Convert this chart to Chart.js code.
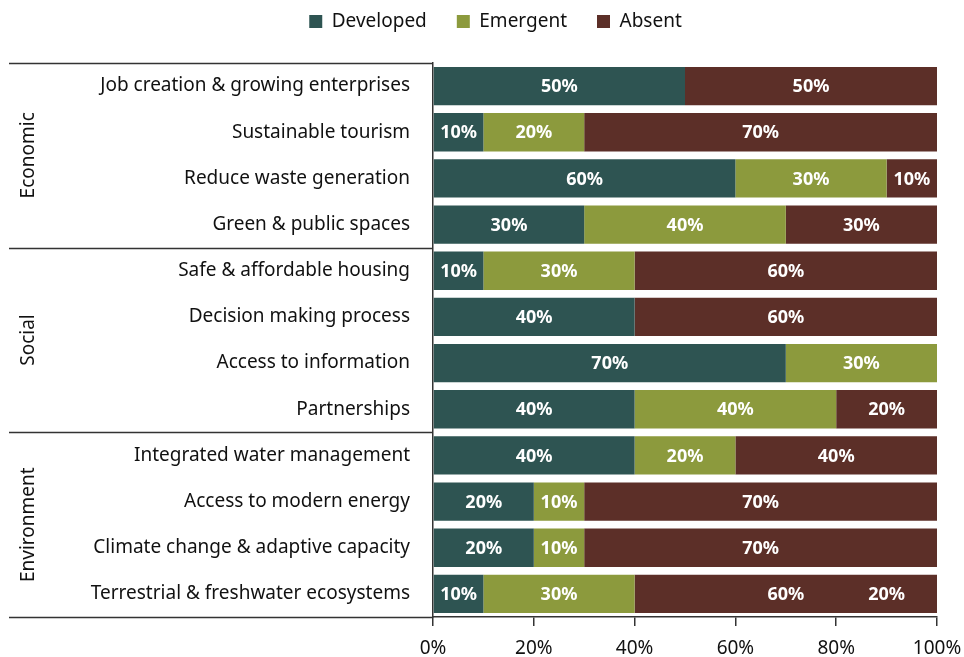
<!DOCTYPE html>
<html>
<head>
<meta charset="utf-8">
<script src="https://cdn.jsdelivr.net/npm/chart.js@4/dist/chart.umd.min.js"></script>
<style>
html,body{margin:0;padding:0;background:#fff;}
#wrap{width:964px;height:657px;position:relative;}
</style>
</head>
<body>
<div id="wrap"><canvas id="c" width="964" height="657"></canvas></div>
<script>
const categories = [
  "Job creation & growing enterprises",
  "Sustainable tourism",
  "Reduce waste generation",
  "Green & public spaces",
  "Safe & affordable housing",
  "Decision making process",
  "Access to information",
  "Partnerships",
  "Integrated water management",
  "Access to modern energy",
  "Climate change & adaptive capacity",
  "Terrestrial & freshwater ecosystems"
];
const groups = ["Economic", "Social", "Environment"];
const groupSizes = [4, 4, 4];
const developed = [50, 10, 60, 30, 10, 40, 70, 40, 40, 20, 20, 10];
const emergent  = [0, 20, 30, 40, 30, 0, 30, 40, 20, 10, 10, 30];
const absent    = [50, 70, 10, 30, 60, 60, 0, 20, 40, 70, 70, 60];
// an extra "20%" label printed inside the last bar's Absent segment in the original
const extraAbsentLabel = [null, null, null, null, null, null, null, null, null, null, null, 20];
const xTicks = [0, 20, 40, 60, 80, 100];

const FONT = "'Noto Sans', 'Open Sans', sans-serif";
const colors = { developed: "#2e5452", emergent: "#8c9a3d", absent: "#5c2f28" };

const LEGEND_H = 63, LEGEND_SHIFT_Y = -18, LEGEND_SHIFT_X = 27;
const legendTweak = {
  id: "legendTweak",
  beforeLayout(chart) {
    const lg = chart.legend;
    if (lg && !lg._patched) {
      const origFit = lg.fit, origDraw = lg.draw;
      lg.fit = function () { origFit.call(this); this.height = LEGEND_H; };
      lg.draw = function () {
        const c = this.ctx; c.save(); c.translate(LEGEND_SHIFT_X, LEGEND_SHIFT_Y);
        origDraw.apply(this, arguments); c.restore();
      };
      lg._patched = true;
    }
  }
};

const labelPlugin = {
  id: "segLabels",
  afterDatasetsDraw(chart) {
    const ctx = chart.ctx;
    const x = chart.scales.x;
    ctx.save();
    ctx.fillStyle = "#fff";
    ctx.font = "bold 18px " + FONT;
    ctx.textAlign = "center";
    ctx.textBaseline = "middle";
    chart.data.datasets.forEach((ds, di) => {
      const meta = chart.getDatasetMeta(di);
      meta.data.forEach((bar, i) => {
        const v = ds.data[i];
        if (!v) return;
        const cx = (bar.x + bar.base) / 2;
        ctx.fillText(v + "%", cx, bar.y + 1);
      });
    });
    const metaA = chart.getDatasetMeta(2);
    extraAbsentLabel.forEach((v, i) => {
      if (v == null) return;
      const cx = x.getPixelForValue(100 - v / 2);
      ctx.fillText(v + "%", cx, metaA.data[i].y + 1);
    });
    ctx.restore();
  }
};

const groupPlugin = {
  id: "groups",
  afterDraw(chart) {
    const ctx = chart.ctx;
    const y = chart.scales.y;
    const area = chart.chartArea;
    const left = 9;
    ctx.save();
    ctx.strokeStyle = "#333";
    ctx.lineWidth = 1.5;
    let start = 0;
    const half = (y.getPixelForValue(1) - y.getPixelForValue(0)) / 2;
    const bounds = [];
    bounds.push(y.getPixelForValue(0) - half);
    groupSizes.forEach(n => { start += n; bounds.push(y.getPixelForValue(start - 1) + half); });
    bounds.forEach((b, k) => {
      ctx.beginPath();
      ctx.moveTo(left, Math.round(b) + 0.5);
      ctx.lineTo(area.left, Math.round(b) + 0.5);
      ctx.stroke();
    });
    ctx.fillStyle = "#111";
    ctx.font = "19px " + FONT;
    ctx.textAlign = "center";
    ctx.textBaseline = "middle";
    groups.forEach((g, k) => {
      const cy = (bounds[k] + bounds[k + 1]) / 2;
      ctx.save();
      ctx.translate(29, cy);
      ctx.rotate(-Math.PI / 2);
      ctx.fillText(g, 0, 0);
      ctx.restore();
    });
    ctx.restore();
  }
};

new Chart(document.getElementById("c"), {
  type: "bar",
  data: {
    labels: categories,
    datasets: [
      { label: "Developed", data: developed, backgroundColor: colors.developed },
      { label: "Emergent", data: emergent, backgroundColor: colors.emergent },
      { label: "Absent", data: absent, backgroundColor: colors.absent }
    ]
  },
  options: {
    indexAxis: "y",
    responsive: false,
    animation: false,
    devicePixelRatio: 1,
    layout: { padding: { top: 0, right: 27, left: 0, bottom: 0 } },
    datasets: { bar: { barPercentage: 0.83, categoryPercentage: 1.0, borderWidth: 0 } },
    plugins: {
      legend: {
        position: "top",
        labels: {
          font: { family: FONT, size: 19 },
          color: "#111",
          boxWidth: 13,
          boxHeight: 13,
          padding: 30
        }
      },
      tooltip: { enabled: false }
    },
    scales: {
      x: {
        stacked: true,
        min: 0, max: 100,
        afterBuildTicks(s) { s.ticks = xTicks.map(v => ({ value: v })); },
        afterFit(s) { s.height = 40; s.paddingLeft = 0; s.paddingRight = 0; },
        border: { display: true, color: "#333", width: 1.5 },
        grid: { display: true, drawOnChartArea: false, drawTicks: true, tickLength: 9, color: "#333", lineWidth: 1.5 },
        ticks: { callback: v => v + "%", font: { family: FONT, size: 19 }, color: "#111", padding: 11, maxRotation: 0 }
      },
      y: {
        stacked: true,
        afterFit(s) { s.width = 433; },
        border: { display: true, color: "#333", width: 1.5 },
        grid: { display: false },
        ticks: { font: { family: FONT, size: 19 }, color: "#111", padding: 15 }
      }
    }
  },
  plugins: [legendTweak, labelPlugin, groupPlugin]
});
</script>
</body>
</html>
